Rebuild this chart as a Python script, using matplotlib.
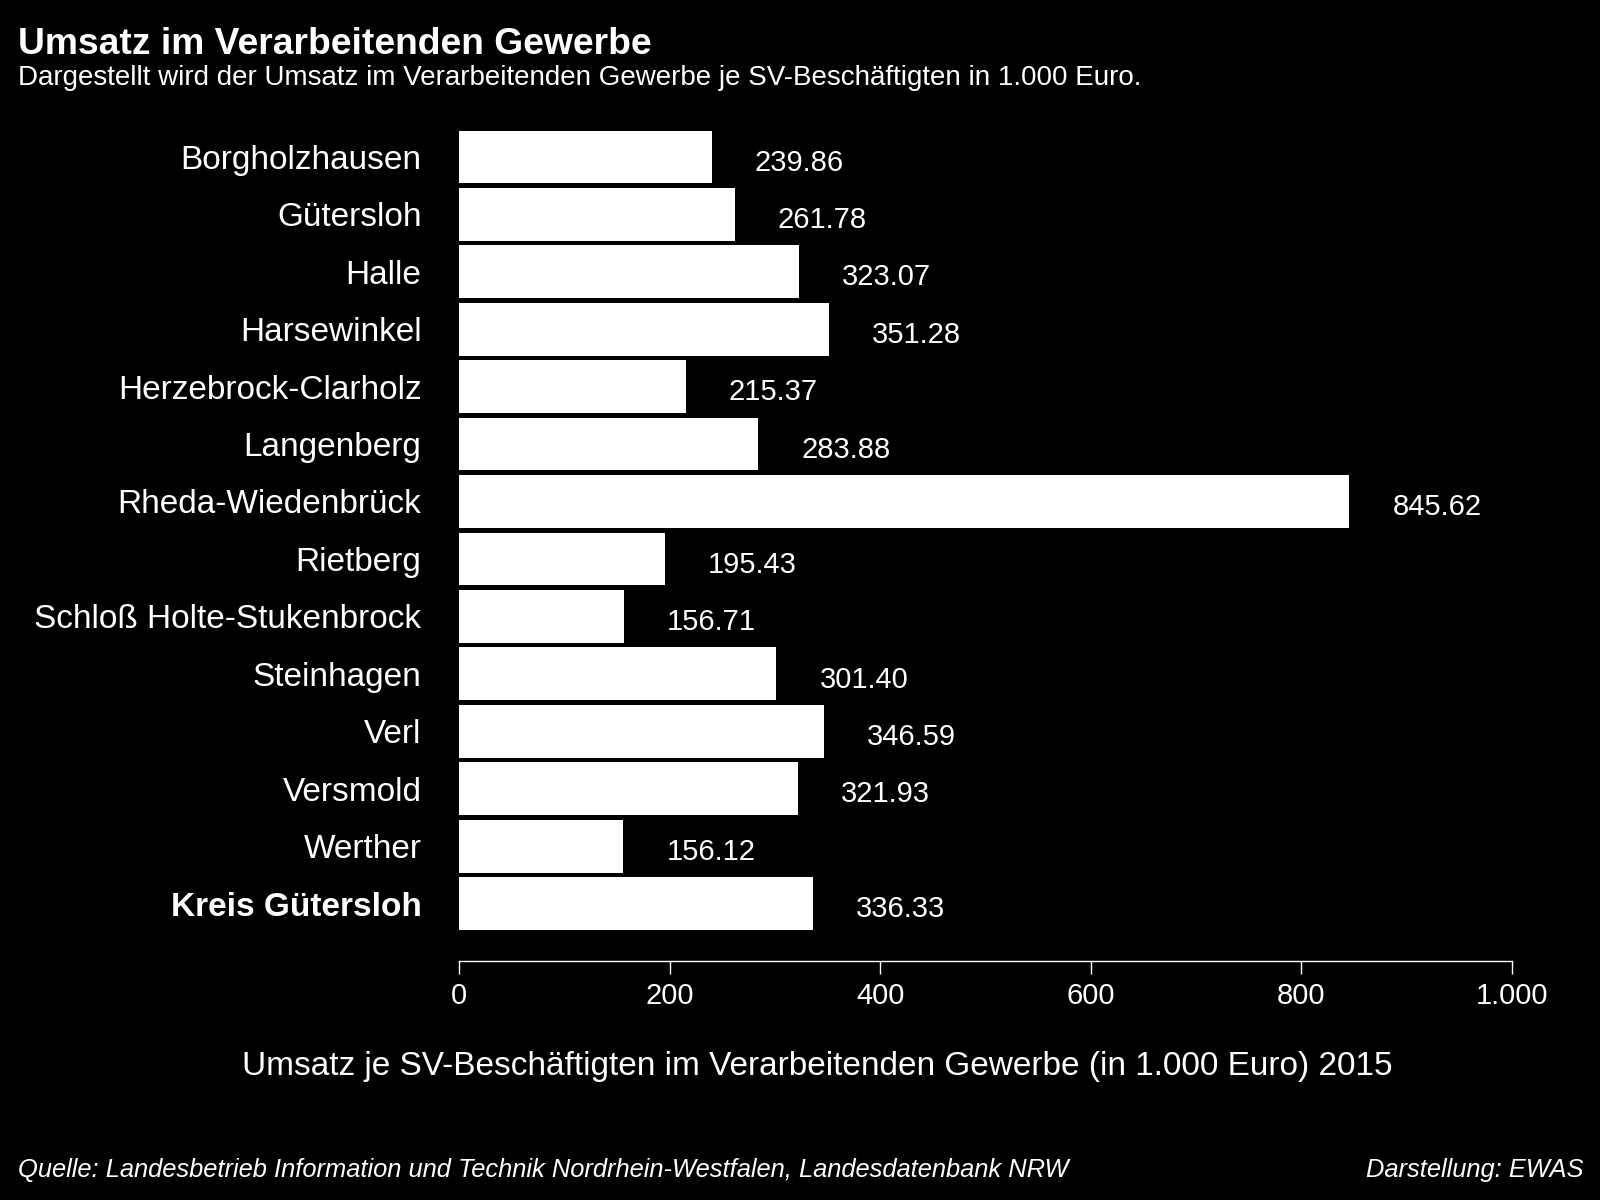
import matplotlib
matplotlib.use('Agg')
import matplotlib.pyplot as plt

plt.rcParams['font.family'] = ['Liberation Sans', 'DejaVu Sans']

categories = ['Borgholzhausen', 'Gütersloh', 'Halle', 'Harsewinkel',
              'Herzebrock-Clarholz', 'Langenberg', 'Rheda-Wiedenbrück',
              'Rietberg', 'Schloß Holte-Stukenbrock', 'Steinhagen', 'Verl',
              'Versmold', 'Werther', 'Kreis Gütersloh']
values = [239.86, 261.78, 323.07, 351.28, 215.37, 283.88, 845.62,
          195.43, 156.71, 301.40, 346.59, 321.93, 156.12, 336.33]
xticks = [0, 200, 400, 600, 800, 1000]
xtick_labels = ['0', '200', '400', '600', '800', '1.000']

BG = 'black'
FG = 'white'

fig = plt.figure(figsize=(16, 12), dpi=100, facecolor=BG)
ax = fig.add_axes([459 / 1600, 1 - 961 / 1200, 1053 / 1600, (961 - 131) / 1200])
ax.set_facecolor(BG)

ypos = list(range(len(categories)))
ax.barh(ypos, values, height=0.92, color=FG, edgecolor='none')
ax.set_xlim(0, 1000)
ax.set_ylim(14.0, -0.45)

for y, v in zip(ypos, values):
    ax.text(v + 41, y + 0.1, f'{v:.2f}', color=FG, fontsize=21,
            ha='left', va='center')

ax.set_yticks(ypos)
ax.set_yticklabels(categories, fontsize=24, color=FG)
ax.get_yticklabels()[-1].set_fontweight('bold')
ax.tick_params(axis='y', length=0, pad=27)

ax.set_xticks(xticks)
ax.set_xticklabels(xtick_labels, fontsize=21, color=FG)
ax.tick_params(axis='x', colors=FG, length=9, width=1, pad=6, labelsize=21)

for s in ('top', 'right', 'left'):
    ax.spines[s].set_visible(False)
ax.spines['bottom'].set_color(FG)
ax.spines['bottom'].set_linewidth(1)

fig.text(18 / 1600, 1 - 44 / 1200, 'Umsatz im Verarbeitenden Gewerbe',
         color=FG, fontsize=26.8, fontweight='bold', ha='left', va='center')
fig.text(18 / 1600, 1 - 78 / 1200,
         'Dargestellt wird der Umsatz im Verarbeitenden Gewerbe je SV-Beschäftigten in 1.000 Euro.',
         color=FG, fontsize=20, ha='left', va='center')
fig.text(817 / 1600, 1 - 1067 / 1200,
         'Umsatz je SV-Beschäftigten im Verarbeitenden Gewerbe (in 1.000 Euro) 2015',
         color=FG, fontsize=24, ha='center', va='center')
fig.text(18 / 1600, 1 - 1170 / 1200,
         'Quelle: Landesbetrieb Information und Technik Nordrhein-Westfalen, Landesdatenbank NRW',
         color=FG, fontsize=18.4, style='italic', ha='left', va='center')
fig.text(1583 / 1600, 1 - 1170 / 1200, 'Darstellung: EWAS',
         color=FG, fontsize=18.4, style='italic', ha='right', va='center')

fig.savefig('out.png', dpi=100, facecolor=BG)
